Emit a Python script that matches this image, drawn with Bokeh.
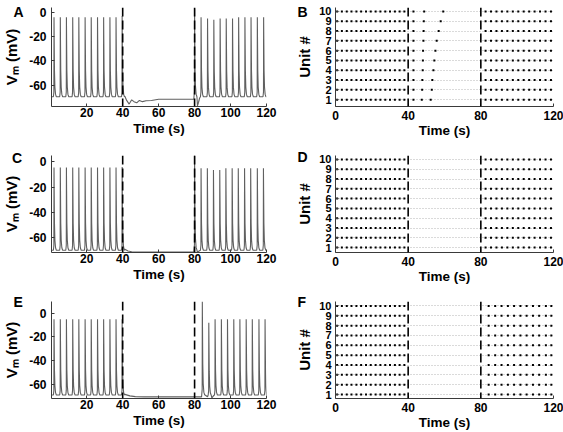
import numpy as np
from bokeh.plotting import figure
from bokeh.layouts import row, column
from bokeh.models import Range1d, FixedTicker, Span, Label
from bokeh.embed import file_html
from bokeh.resources import INLINE

FONT = "Liberation Sans"

# ---------------- data ----------------
stim_times = [40, 80]

# spike shape (time offsets in s, fraction of spike amplitude)
spike_dt = [-0.35, -0.08, 0.0, 0.1, 0.25, 0.5, 0.85, 1.3]
spike_frac = [0.0, 0.06, 1.0, 0.72, 0.33, 0.12, 0.03, 0.0]

pre_spike_t = [1.8, 5.3, 8.7, 12.2, 15.6, 19.1, 22.5, 26.0, 29.4, 32.9, 36.3, 39.7]

# Panel A
A_spike_t = pre_spike_t + [80.0, 83.6, 87.2, 90.7, 94.2, 97.6, 101.1, 104.5, 108.0, 111.4, 114.9, 118.4]
A_spike_peak = [-4, -4, -4, -4, -4, -4, -4, -4, -4, -4, -4, -3,
                3, -4, -5, -6, -5, -5, -5, -4, -4, -4, -4, -4]
A_rest = -69.5
A_extra_t = [41.2, 42.2, 43.6, 45.0, 46.3, 47.8, 49.3, 51.0, 53.0, 56.0, 60.0, 79.6,
             81.6, 82.2, 82.8]
A_extra_v = [-69.0, -72.5, -75.5, -72.0, -73.5, -74.5, -72.5, -73.5, -72.8, -72.5, -71.5, -71.5,
             -77.0, -74.0, -70.5]

# Panel C
C_spike_t = pre_spike_t + [80.0, 83.6, 87.1, 90.5, 94.0, 97.4, 100.9, 104.3, 107.8, 111.2, 114.9, 118.3]
C_spike_peak = [-4.5, -4.5, -4.5, -4.5, -4.5, -4.5, -4.5, -4.5, -4.5, -4.5, -4.5, -4,
                5, -5, -5, -6.5, -6.5, -5, -5, -5, -5, -5, -5, -5]
C_rest = -69.7
C_extra_t = [41.2, 43.0, 45.0, 48.0, 79.6, 81.5, 82.5]
C_extra_v = [-69.0, -70.3, -70.9, -71.2, -71.2, -71.2, -70.3]

# Panel E
E_spike_t = pre_spike_t + [84.3, 87.9, 91.4, 94.9, 98.3, 101.8, 105.2, 108.7, 112.1, 115.8, 119.2]
E_spike_peak = [-5, -5, -5, -5, -5, -5, -5, -5, -5, -5, -5, -5,
                10, -8, -5, -5, -5, -5, -5, -5, -5, -5, -5]
E_rest = -69.0
E_extra_t = [41.2, 44.0, 47.0, 52.0, 83.9, 85.8, 87.2, 89.6, 90.6]
E_extra_v = [-68.5, -69.8, -70.4, -70.6, -70.6, -69.0, -70.5, -71.5, -69.5]

# raster panels
units = [1, 2, 3, 4, 5, 6, 7, 8, 9, 10]
raster_pre_t = [0.9, 3.5, 6.2, 8.8, 11.5, 14.1, 16.8, 19.4, 22.1, 24.7, 27.4, 30.0, 32.7, 35.3, 37.9]
raster_post_t = [82.6, 85.6, 88.6, 91.6, 94.6, 97.6, 100.6, 103.6, 106.6, 109.6, 112.6, 115.6, 118.6]
B_late1_t = [42.9, 42.9, 42.9, 42.9, 42.9, 42.9, 42.9, 42.9, 42.9, 42.9]
B_late2_t = [47.5, 47.7, 47.8, 48.0, 48.1, 48.2, 48.4, 48.5, 48.6, 48.8]
B_late3_t = [52.4, 53.0, 53.3, 53.9, 54.4, 55.0, 55.7, 56.8, 57.9, 59.3]
F_post_t = [84.3, 87.9, 91.4, 94.9, 98.3, 101.8, 105.2, 108.7, 112.1, 115.8, 118.8]

trace_xticks = [20, 40, 60, 80, 100, 120]
trace_yticks = [-60, -40, -20, 0]
raster_xticks = [0, 40, 80, 120]


def build_trace(spike_t, spike_peak, rest, extra_t, extra_v, t0, t1):
    pts = [(t0, rest)]
    for t, pk in zip(spike_t, spike_peak):
        for dt, f in zip(spike_dt, spike_frac):
            pts.append((t + dt, rest + f * (pk - rest)))
    pts += list(zip(extra_t, extra_v))
    pts.append((t1, rest))
    pts.sort()
    return [p[0] for p in pts], [p[1] for p in pts]


def style(p, xticks, yticks, tick_size, ylab_standoff, xlab_standoff, xmaj_standoff):
    p.xaxis.ticker = FixedTicker(ticks=xticks)
    p.yaxis.ticker = FixedTicker(ticks=yticks)
    for ax in (p.xaxis[0], p.yaxis[0]):
        ax.major_tick_in = 3
        ax.major_tick_out = 0
        ax.minor_tick_line_color = None
        ax.axis_line_color = "#3a3a3a"
        ax.major_tick_line_color = "#3a3a3a"
        ax.major_label_text_font = FONT
        ax.major_label_text_font_style = "bold"
        ax.major_label_text_color = "black"
        ax.axis_label_text_font = FONT
        ax.axis_label_text_font_style = "bold"
        ax.axis_label_text_font_size = "15px"
        ax.axis_label_text_color = "black"
    p.xaxis.major_label_text_font_size = "12px"
    p.yaxis.major_label_text_font_size = tick_size
    p.xaxis.axis_label = "Time (s)"
    p.xaxis.axis_label_text_font_size = "13.5px"
    p.xaxis.major_label_standoff = xmaj_standoff
    p.xaxis.axis_label_standoff = xlab_standoff
    p.yaxis.axis_label_standoff = ylab_standoff
    p.outline_line_color = None
    p.background_fill_color = "white"
    p.border_fill_color = "white"


def letter(p, txt, x, y, side):
    # placed in a side panel so that it is not clipped to the frame
    p.add_layout(Label(x=x, y=y, x_units="canvas", y_units="canvas", text=txt,
                       text_font=FONT, text_font_style="bold", text_font_size="14px",
                       text_color="black", text_baseline="alphabetic"), side)


def trace_panel(h, top, bottom, yr, spike_t, spike_peak, rest, extra_t, extra_v, name, lx, ly):
    p = figure(width=280, height=h, output_backend="svg", toolbar_location=None,
               x_range=Range1d(0.4, 120), y_range=Range1d(*yr),
               min_border_left=46, min_border_right=14, min_border_top=top, min_border_bottom=bottom)
    style(p, trace_xticks, trace_yticks, "12px", 6, 1, 1)
    p.yaxis.major_label_overrides = {-60: "-60", -40: "-40", -20: "-20", 0: "0"}
    p.yaxis.axis_label = "V\u2098 (mV)"
    p.yaxis.major_label_standoff = 5
    p.xgrid.grid_line_color = None
    p.ygrid.grid_line_color = None
    xs, ys = build_trace(spike_t, spike_peak, rest, extra_t, extra_v, 0.4, 120)
    p.line(xs, ys, line_color="#606060", line_width=1.1)
    for s in stim_times:
        p.add_layout(Span(location=s, dimension="height", line_color="black",
                          line_width=1.6, line_dash="9 4"))
    letter(p, name, lx, ly, "right")
    return p


def raster_panel(h, top, bottom, yr, dots_x, dots_y, name, lx, ly):
    p = figure(width=283, height=h, output_backend="svg", toolbar_location=None,
               x_range=Range1d(0, 120), y_range=Range1d(*yr),
               min_border_left=55, min_border_right=10, min_border_top=top, min_border_bottom=bottom)
    style(p, raster_xticks, units, "11px", 3, 0, 4)
    p.yaxis.axis_label = "Unit #"
    p.yaxis.major_label_standoff = 4
    p.xgrid.grid_line_color = None
    p.ygrid.ticker = FixedTicker(ticks=units)
    p.ygrid.grid_line_color = "#b5b5b5"
    p.ygrid.grid_line_dash = "1 2"
    p.ygrid.grid_line_width = 1
    p.scatter(dots_x, dots_y, marker="square", size=2, fill_color="black", line_color=None)
    for s in stim_times:
        p.add_layout(Span(location=s, dimension="height", line_color="black",
                          line_width=1.6, line_dash="9 4"))
    letter(p, name, lx, ly, "left")
    return p


def raster_dots(time_lists_common, per_unit_lists):
    xs, ys = [], []
    for u_i, u in enumerate(units):
        for lst in time_lists_common:
            for t in lst:
                xs.append(t)
                ys.append(u)
        for lst in per_unit_lists:
            xs.append(lst[u_i])
            ys.append(u)
    return xs, ys


Bx, By = raster_dots([raster_pre_t, raster_post_t], [B_late1_t, B_late2_t, B_late3_t])
Dx, Dy = raster_dots([raster_pre_t, raster_post_t], [])
Fx, Fy = raster_dots([raster_pre_t, F_post_t], [])

pA = trace_panel(145, 5, 39, (-77.5, 4), A_spike_t, A_spike_peak, A_rest, A_extra_t, A_extra_v, "A", 13, 11)
pB = raster_panel(145, 7, 38, (0.3, 10.4), Bx, By, "B", 17, 11)
pC = trace_panel(145, 10, 38, (-71.5, 5), C_spike_t, C_spike_peak, C_rest, C_extra_t, C_extra_v, "C", 11.5, 12)
pD = raster_panel(145, 9, 38, (0.5, 10.4), Dx, Dy, "D", 17, 11)
pE = trace_panel(142, 11, 34, (-72, 10), E_spike_t, E_spike_peak, E_rest, E_extra_t, E_extra_v, "E", 13, 11.5)
pF = raster_panel(142, 11, 34, (0.6, 10.45), Fx, Fy, "F", 17, 11)

layout = column(row(pA, pB), row(pC, pD), row(pE, pF))

open("out.html", "w").write(file_html(layout, INLINE))
